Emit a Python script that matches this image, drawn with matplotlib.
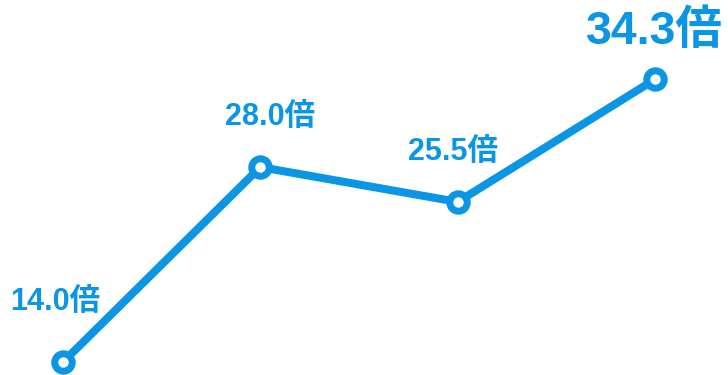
import matplotlib.pyplot as plt

plt.rcParams['font.family'] = ['Liberation Sans', 'Noto Sans CJK JP', 'DejaVu Sans']

# values of the series
steps = [0, 1, 2, 3]
ratios = [14.0, 28.0, 25.5, 34.3]
labels = ['14.0倍', '28.0倍', '25.5倍', '34.3倍']
label_sizes = [22, 22, 22, 33.5]
label_offsets = [(-8, 60), (10, 50), (-5, 50), (-1, 47)]

blue = '#0a95e5'

fig = plt.figure(figsize=(7.28, 3.75), dpi=100)
ax = fig.add_axes([0, 0, 1, 1])

ax.plot(steps, ratios, color=blue, linewidth=5.8, marker='o', markersize=12.6,
        markerfacecolor='white', markeredgecolor=blue, markeredgewidth=5,
        solid_capstyle='round', zorder=3, clip_on=False)

for xv, yv, txt, fs, off in zip(steps, ratios, labels, label_sizes, label_offsets):
    ax.annotate(txt, (xv, yv), xytext=off, textcoords='offset pixels',
                ha='center', va='center', fontsize=fs, fontweight='bold',
                color=blue)

ax.set_xlim(-0.319, 3.37)
ax.set_ylim(13.07, 40.0)
ax.axis('off')

fig.savefig('out.png', dpi=100)
